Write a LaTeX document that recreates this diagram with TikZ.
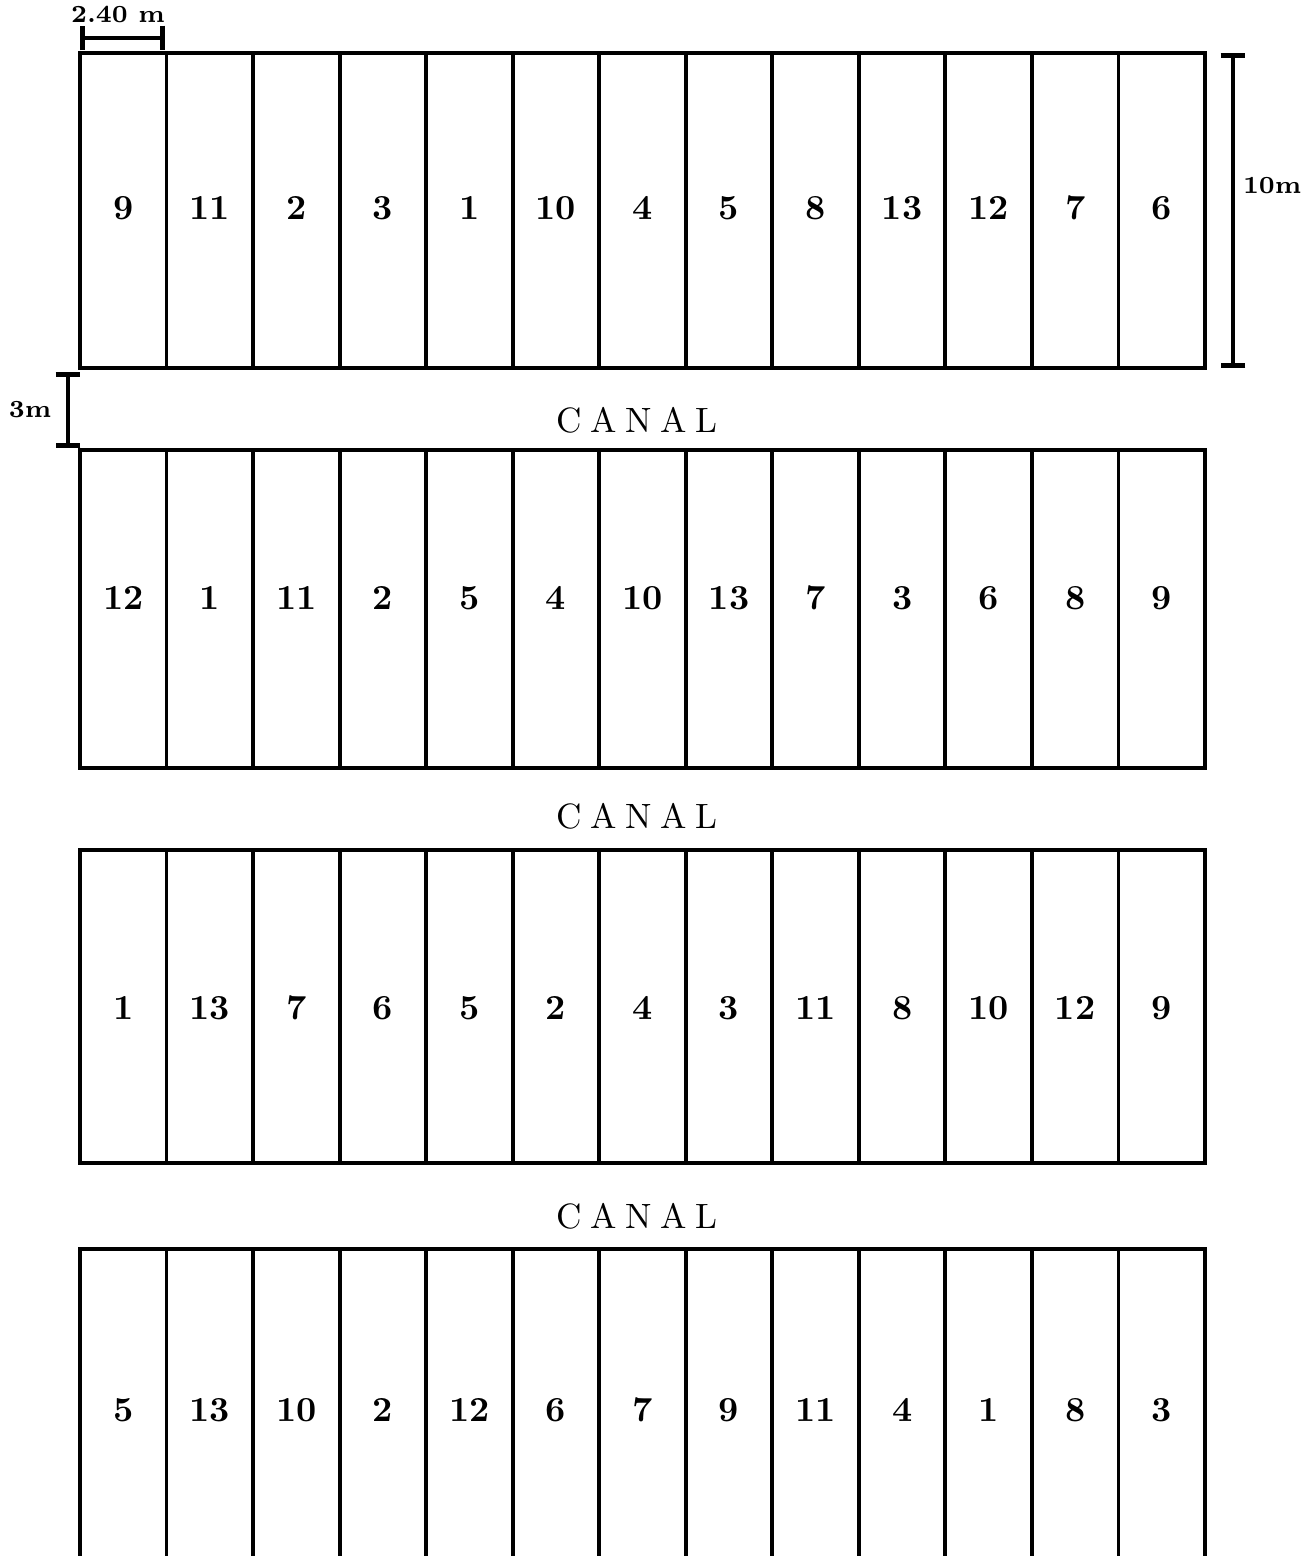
\documentclass[tikz,border=0pt]{standalone}
\usetikzlibrary{arrows.meta,positioning}
\tikzset{
  plotline/.style={line width=1.1pt},
  plotnum/.style={font=\bfseries, inner sep=0pt},
  canaltext/.style={font=\normalsize, inner sep=0pt},
  dimline/.style={line width=1.1pt, {Bar[width=7pt,line width=1.4pt]}-{Bar[width=7pt,line width=1.4pt]}},
  dimtext/.style={font=\bfseries\scriptsize, inner sep=0pt}
}
\begin{document}
\begin{tikzpicture}[x=0.01cm, y=-0.01cm]
  \useasboundingbox (0,0) rectangle (1307,1556);

  % blocks of plots, 13 plots each
  \foreach \top/\bot in {53/368, 450/768, 850/1163}{
    \draw[plotline] (80,\top) rectangle (1205,\bot);
    \foreach \i in {1,...,12}
      \draw[plotline] ({80+86.54*\i},\top) -- ({80+86.54*\i},\bot);
  }
  % last block runs off the sheet
  \draw[plotline] (80,1556) -- (80,1249) -- (1205,1249) -- (1205,1556);
  \foreach \i in {1,...,12}
    \draw[plotline] ({80+86.54*\i},1249) -- ({80+86.54*\i},1556);

  % plot numbers
  \foreach \n [count=\i] in {9,11,2,3,1,10,4,5,8,13,12,7,6}
    \node[plotnum] (ba\i) at ({80+86.54*(\i-0.5)},208) {\n};
  \foreach \n [count=\i] in {12,1,11,2,5,4,10,13,7,3,6,8,9}
    \node[plotnum] (bb\i) at ({80+86.54*(\i-0.5)},598) {\n};
  \foreach \n [count=\i] in {1,13,7,6,5,2,4,3,11,8,10,12,9}
    \node[plotnum] (bc\i) at ({80+86.54*(\i-0.5)},1008) {\n};
  \foreach \n [count=\i] in {5,13,10,2,12,6,7,9,11,4,1,8,3}
    \node[plotnum] (bd\i) at ({80+86.54*(\i-0.5)},1410) {\n};

  % canals
  \node[canaltext] (canala) at (637,420) {C\kern2.5pt A\kern2.5pt N\kern2.5pt A\kern2.5pt L};
  \node[canaltext] (canalb) at (637,816) {C\kern2.5pt A\kern2.5pt N\kern2.5pt A\kern2.5pt L};
  \node[canaltext] (canalc) at (637,1216) {C\kern2.5pt A\kern2.5pt N\kern2.5pt A\kern2.5pt L};

  % dimensions
  \coordinate (wa) at (80,38);
  \coordinate (wb) at (165,38);
  \draw[dimline] (wa) -- (wb);
  \node[dimtext] (wlab) at (118,14) {2.40 m};
  \coordinate (ha) at (1233,53);
  \coordinate (hb) at (1233,368);
  \draw[dimline] (ha) -- (hb);
  \node[dimtext, anchor=east] (hlab) at (1302,186) {10m};
  \coordinate (ga) at (68,372);
  \coordinate (gb) at (68,448);
  \draw[dimline] (ga) -- (gb);
  \node[dimtext] (glab) at (30,410) {3m};
\end{tikzpicture}
\end{document}
